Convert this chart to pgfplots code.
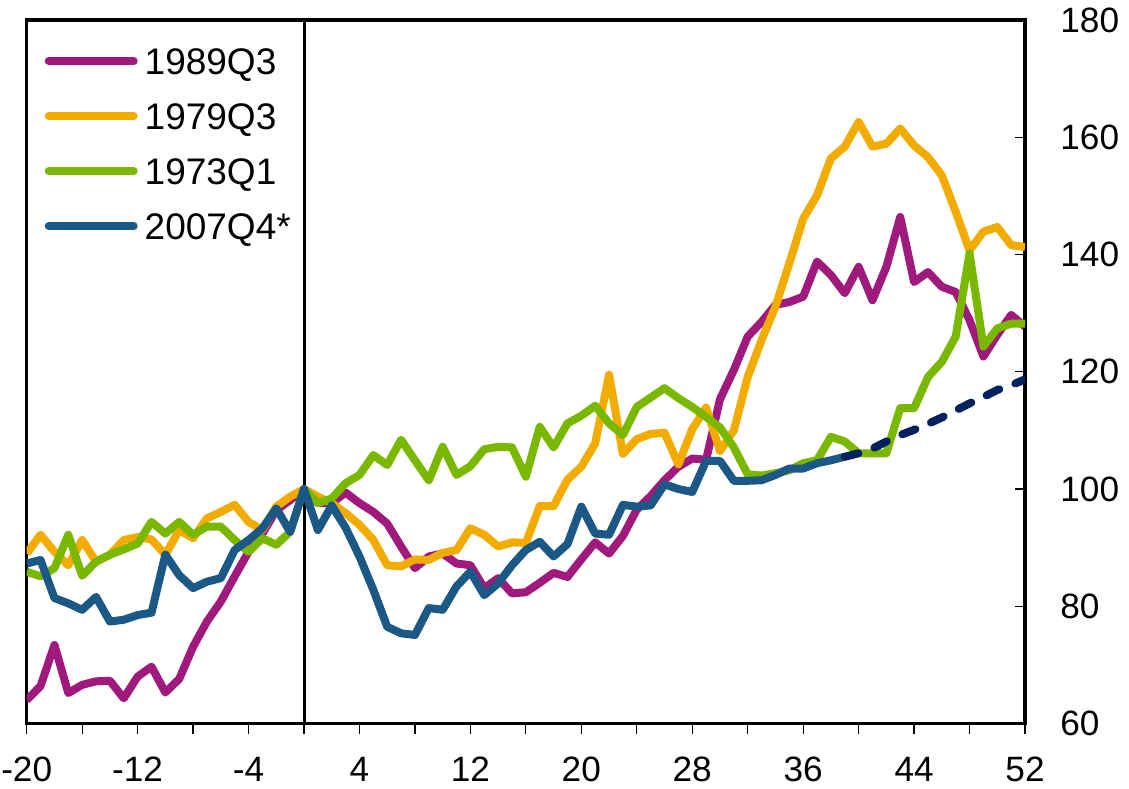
\documentclass[border=0pt]{standalone}
\usepackage{fontspec}
\setmainfont{Liberation Sans}
\usepackage{pgfplots}
\usepackage{pgfplotstable}
\pgfplotsset{compat=1.18}

\definecolor{cMag}{RGB}{160,26,125}
\definecolor{cOra}{RGB}{242,172,0}
\definecolor{cGre}{RGB}{122,184,0}
\definecolor{cBlu}{RGB}{27,88,134}
\definecolor{cNav}{RGB}{0,32,96}

% quarters from cycle trough/peak, index = 100 at quarter 0
\pgfplotstableread{
q   m89   o79   g73   b07
-20 64.0  89.0  85.9  87.3
-19 66.4  92.2  85.1  87.9
-18 73.4  89.3  86.5  81.4
-17 65.2  87.0  92.2  80.5
-16 66.6  91.3  85.2  79.4
-15 67.2  87.6  87.6  81.6
-14 67.3  88.8  88.8  77.4
-13 64.3  91.3  89.7  77.7
-12 68.0  91.8  90.7  78.5
-11 69.7  91.4  94.4  78.9
-10 65.3  88.8  92.4  88.8
-9  67.6  93.0  94.4  85.3
-8  73.1  91.6  92.2  83.1
-7  77.4  95.0  93.6  84.2
-6  80.8  96.1  93.6  84.8
-5  85.1  97.3  91.3  89.6
-4  89.3  94.4  89.3  91.3
-3  92.4  93.0  91.6  93.3
-2  96.4  97.0  90.5  96.7
-1  98.1  98.7  92.7  92.7
0   100   100   100   100
1   97.6  98.7  97.6  93.0
2   97.6  97.6  98.4  97.2
3   99.4  95.9  101.0 93.4
4   97.6  93.9  102.4 88.5
5   96.1  91.3  105.8 82.8
6   94.1  87.0  104.1 76.5
7   90.2  86.8  108.4 75.4
8   86.5  88.0  104.9 75.1
9   88.5  87.9  101.5 79.7
10  89.0  89.1  107.2 79.4
11  87.3  89.6  102.4 83.4
12  87.0  93.3  103.9 85.9
13  83.1  92.2  106.8 81.9
14  84.8  90.2  107.2 83.9
15  82.2  90.9  107.1 87.0
16  82.4  90.8  102.1 89.6
17  84.0  97.1  110.6 91.0
18  85.7  97.1  107.1 88.5
19  85.0  101.6 111.2 90.6
20  88.0  103.8 112.5 97.0
21  90.9  107.8 114.2 92.4
22  89.0  119.5 111.2 92.2
23  92.0  106.0 109.2 97.3
24  96.5  108.5 114.0 97.0
25  98.8  109.4 115.6 97.2
26  101.5 109.6 117.2 100.8
27  103.8 104.2 115.5 100.0
28  105.2 110.2 114.0 99.5
29  105.0 113.9 112.3 104.8
30  115.3 106.5 110.5 104.8
31  120.3 110.0 107.1 101.4
32  126.0 119.1 102.5 101.4
33  128.5 125.4 102.3 101.5
34  131.4 131.1 102.7 102.4
35  131.9 138.5 103.2 103.5
36  132.8 146.1 104.4 103.5
37  138.8 150.1 104.9 104.4
38  136.5 156.4 108.9 104.9
39  133.4 158.4 108.1 105.5
40  137.9 162.6 106.1 nan
41  132.2 158.4 106.1 nan
42  137.9 158.9 106.1 nan
43  146.4 161.5 113.8 nan
44  135.3 158.6 113.8 nan
45  137.0 156.6 119.1 nan
46  134.5 153.5 121.7 nan
47  133.6 147.3 126.0 nan
48  128.8 140.7 140.2 nan
49  122.6 143.9 124.3 nan
50  126.3 144.7 127.4 nan
51  129.7 141.6 128.2 nan
52  127.7 141.3 128.2 nan
}\cycles

% projection for the current cycle
\pgfplotstableread{
q   proj
39  105.5
40  106.1
41  106.9
42  108.1
43  109.2
44  110.1
45  111.1
46  112.2
47  113.4
48  114.6
49  115.7
50  116.9
51  117.7
52  118.7
}\proj

\begin{document}
\begin{tikzpicture}
\begin{axis}[
    scale only axis,
    width=499.2pt, height=351.8pt,
    xmin=-20, xmax=52, ymin=60, ymax=180,
    axis line style={line width=1.75pt},
    xtick={-20,-12,...,52},
    minor xtick={-16,-8,...,48},
    ytick={60,80,...,180},
    xtick pos=bottom, ytick pos=right,
    yticklabel pos=right,
    tick align=inside,
    major tick length=5pt, minor tick length=5pt,
    tick style={black, line width=0.6pt},
    major x tick style={yshift=-5pt},
    minor x tick style={yshift=-5pt},
    /pgf/number format/assume math mode=true,
    ticklabel style={font=\fontsize{17.6}{21}\selectfont},
    xticklabel style={anchor=base, inner sep=0pt, yshift=-29pt},
    yticklabel style={anchor=west, inner sep=0pt, xshift=17.5pt},
    legend image code/.code={\draw[#1, line cap=round] (0pt,0pt) -- (42.5pt,0pt);},
    legend cell align=left,
    legend style={at={(axis description cs:0,1)}, anchor=north west,
        xshift=8.8pt, yshift=-13.9pt,
        draw=none, fill=none, inner sep=0pt,
        row sep=14.6pt, column sep=3.5pt,
        nodes={inner sep=0pt, text depth=0pt},
        cells={anchor=west},
        font=\fontsize{18.5}{22}\selectfont},
    every axis plot/.append style={line width=4pt, line join=round},
    unbounded coords=jump,
]
\addplot[black, line width=1.5pt, forget plot] coordinates {(0,60) (0,180)};
\addplot[cMag] table[x=q, y=m89] {\cycles};
\addplot[cOra] table[x=q, y=o79] {\cycles};
\addplot[cGre] table[x=q, y=g73] {\cycles};
\addplot[cBlu] table[x=q, y=b07] {\cycles};
\addplot[cNav, line cap=round, dash pattern=on 7pt off 8.5pt, forget plot] table[x=q, y=proj] {\proj};
\legend{1989Q3,1979Q3,1973Q1,2007Q4*}
\end{axis}
\path (-13.35pt,-32.7pt) rectangle (551.2pt,361.8pt);
\end{tikzpicture}
\end{document}
